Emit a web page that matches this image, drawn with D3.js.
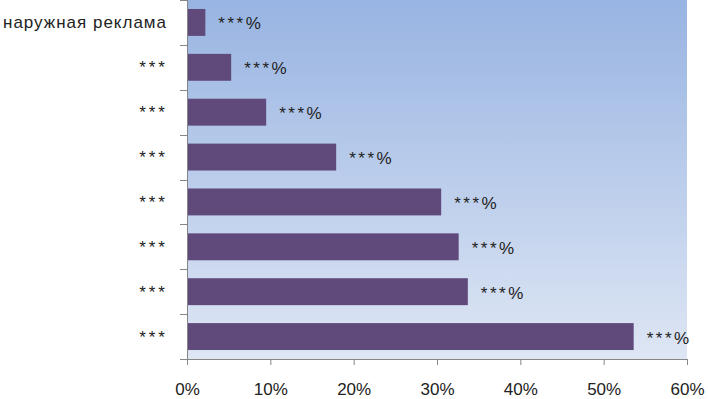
<!DOCTYPE html>
<html>
<head>
<meta charset="utf-8">
<script src="https://cdn.jsdelivr.net/npm/d3@7"></script>
<style>
  body { margin: 0; background: #fff; }
  text { font-family: "Liberation Sans", Arial, sans-serif; }
</style>
</head>
<body>
<div id="chart"></div>
<script>
const categories = ["наружная реклама", "***", "***", "***", "***", "***", "***", "***"];
const values = [2.2, 5.3, 9.5, 17.9, 30.5, 32.6, 33.7, 53.6];
const valueLabels = ["***%", "***%", "***%", "***%", "***%", "***%", "***%", "***%"];
const xTicks = [0, 10, 20, 30, 40, 50, 60];

const width = 708, height = 399;
const plotLeft = 187, plotRight = 687, plotTop = 0, plotBottom = 359;

const svg = d3.select("#chart").append("svg")
  .attr("width", width)
  .attr("height", height);

const defs = svg.append("defs");
const grad = defs.append("linearGradient")
  .attr("id", "bg")
  .attr("x1", 0).attr("y1", 0).attr("x2", 0).attr("y2", 1);
grad.append("stop").attr("offset", "0%").attr("stop-color", "#98b4e2");
grad.append("stop").attr("offset", "100%").attr("stop-color", "#dee6f4");

const x = d3.scaleLinear().domain([0, 60]).range([plotLeft, plotRight]);
const y = d3.scaleBand()
  .domain(d3.range(categories.length))
  .range([plotTop, plotBottom])
  .paddingInner(0.4)
  .paddingOuter(0.2);

// plot area
svg.append("rect")
  .attr("x", plotLeft).attr("y", plotTop)
  .attr("width", plotRight - plotLeft).attr("height", plotBottom - plotTop)
  .attr("fill", "url(#bg)");

// bars
svg.selectAll(".bar")
  .data(values)
  .enter()
  .append("rect")
  .attr("class", "bar")
  .attr("x", x(0))
  .attr("y", (d, i) => y(i))
  .attr("width", d => x(d) - x(0))
  .attr("height", y.bandwidth())
  .attr("fill", "#604a7b");

// value labels
svg.selectAll(".val")
  .data(values)
  .enter()
  .append("text")
  .attr("class", "val")
  .attr("x", d => x(d) + 13)
  .attr("y", (d, i) => y(i) + y.bandwidth() / 2 + 7)
  .attr("font-size", 17)
  .attr("letter-spacing", 2.5)
  .attr("fill", "#222")
  .text((d, i) => valueLabels[i]);

// y axis line and ticks at band boundaries
const axisColor = "#868686";
svg.append("line")
  .attr("x1", plotLeft + 0.5).attr("x2", plotLeft + 0.5)
  .attr("y1", plotTop).attr("y2", plotBottom)
  .attr("stroke", axisColor);
const step = (plotBottom - plotTop) / categories.length;
svg.selectAll(".ytick")
  .data(d3.range(categories.length + 1))
  .enter()
  .append("line")
  .attr("class", "ytick")
  .attr("x1", plotLeft - 7).attr("x2", plotLeft)
  .attr("y1", i => Math.round(plotTop + i * step) + 0.5)
  .attr("y2", i => Math.round(plotTop + i * step) + 0.5)
  .attr("stroke", axisColor);

// category labels
svg.selectAll(".cat")
  .data(categories)
  .enter()
  .append("text")
  .attr("class", "cat")
  .attr("x", d => d === "***" ? 168 : 167)
  .attr("y", (d, i) => y(i) + y.bandwidth() / 2 + 6)
  .attr("text-anchor", "end")
  .attr("font-size", 17)
  .attr("letter-spacing", d => d === "***" ? 3 : 1)
  .attr("fill", "#222")
  .text(d => d);

// x axis
const xAxis = d3.axisBottom(x)
  .tickValues(xTicks)
  .tickSize(6)
  .tickFormat(d => d + "%");
const gx = svg.append("g")
  .attr("transform", `translate(0,${plotBottom})`)
  .call(xAxis);
gx.select(".domain").attr("stroke", axisColor);
gx.selectAll(".tick line").attr("stroke", axisColor);
gx.selectAll(".tick text")
  .attr("y", 24)
  .attr("font-size", 17)
  .attr("font-family", "'Liberation Sans', Arial, sans-serif")
  .attr("fill", "#222");
</script>
</body>
</html>
